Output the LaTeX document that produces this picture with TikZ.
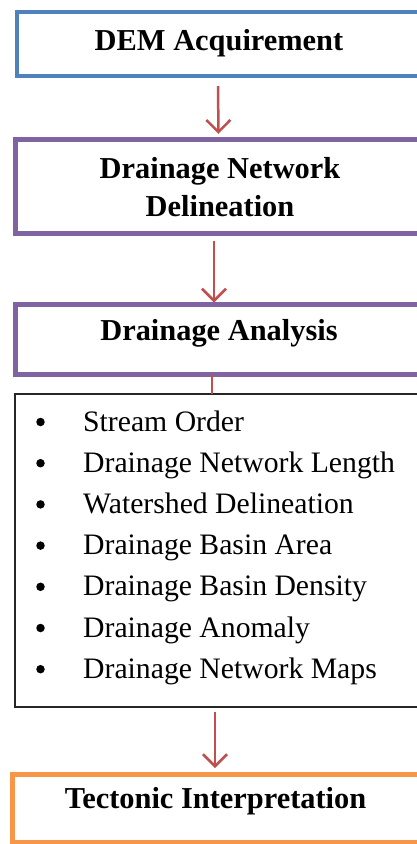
\documentclass[tikz,border=0pt]{standalone}
\usepackage{fontspec}
\setmainfont{Liberation Serif}
\usetikzlibrary{arrows.meta}
\definecolor{cblue}{HTML}{4F81BD}
\definecolor{cpurple}{HTML}{8064A2}
\definecolor{cred}{HTML}{C0504D}
\definecolor{corange}{HTML}{F79646}
\tikzset{
  boxshape/.style={draw, rectangle, inner sep=0pt, outer sep=0pt},
  headtext/.style={anchor=base, inner sep=0pt, font=\fontsize{30.4}{38}\selectfont\bfseries},
  itemtext/.style={anchor=base west, inner sep=0pt, font=\fontsize{29.7}{36}\selectfont},
  bulletdot/.style={circle, fill=black, inner sep=0pt, minimum size=8.5pt},
  flowarrow/.style={draw=cred, line width=2.5pt, -{Straight Barb[length=12pt,width=24pt]}},
  flowline/.style={draw=cred, line width=2.8pt},
}
\begin{document}
\begin{tikzpicture}[x=1pt,y=-1pt]
\path[use as bounding box, clip] (0,0) rectangle (417,844);
% boxes
\node[boxshape, draw=cblue, line width=4pt, minimum width=406pt, minimum height=64pt] (b1) at (220,44) {};
\node[boxshape, draw=cpurple, line width=5pt, minimum width=410pt, minimum height=93.5pt] (b2) at (220.5,186.5) {};
\node[boxshape, draw=cpurple, line width=5pt, minimum width=410pt, minimum height=69.5pt] (b3) at (220.5,339.25) {};
\node[boxshape, draw=black!85, line width=2pt, minimum width=414pt, minimum height=313pt] (b4) at (221.5,550.5) {};
\node[boxshape, draw=corange, line width=5pt, minimum width=414pt, minimum height=68pt] (b5) at (219.5,808) {};
% headings
\node[headtext] (t1) at (219,50) {DEM Acquirement};
\node[headtext] (t2a) at (220,178) {Drainage Network};
\node[headtext] (t2b) at (220,216) {Delineation};
\node[headtext] (t3) at (219,340) {Drainage Analysis};
\node[headtext] (t5) at (215.5,808) {Tectonic Interpretation};
% list
\foreach \i/\txt in {0/Stream Order,1/Drainage Network Length,2/Watershed Delineation,3/Drainage Basin Area,4/Drainage Basin Density,5/Drainage Anomaly,6/Drainage Network Maps}{
  \pgfmathsetmacro{\yb}{431+41.2*\i}
  \node[bulletdot] (d\i) at (40.5,\yb-9) {};
  \node[itemtext] (l\i) at (83,\yb) {\txt};
}
% connectors
\draw[flowarrow] ([xshift=-2pt,yshift=-10pt]b1.south) -- ([xshift=-2pt,yshift=6pt]b2.north);
\draw[flowarrow] ([xshift=-6.5pt,yshift=-8pt]b2.south) -- ([xshift=-6.5pt,yshift=2pt]b3.north);
\draw[flowline] ([xshift=-8.5pt]b3.south) -- ([xshift=-9.5pt]b4.north);
\draw[flowarrow] ([xshift=-6.5pt,yshift=-5pt]b4.south) -- ([xshift=-4.5pt,yshift=6pt]b5.north);
\end{tikzpicture}
\end{document}
